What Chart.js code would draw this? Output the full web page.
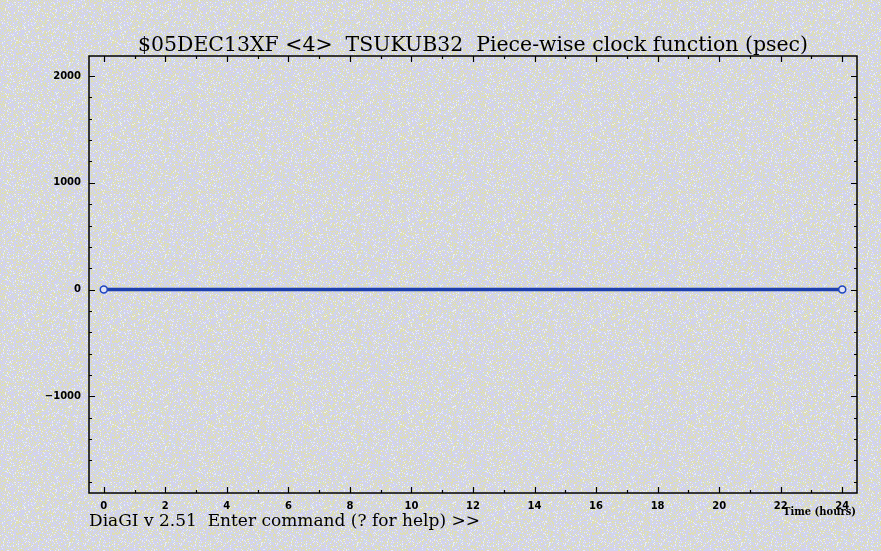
<!DOCTYPE html>
<html>
<head>
<meta charset="utf-8">
<script src="https://cdn.jsdelivr.net/npm/chart.js@4.4.1/dist/chart.umd.min.js"></script>
<style>
html,body{margin:0;padding:0;width:881px;height:551px;overflow:hidden;background:#dcdce6;}
#wrap{position:absolute;left:0;top:0;width:881px;height:551px;}
</style>
</head>
<body>
<div id="wrap"><canvas id="c" width="881" height="551"></canvas></div>
<script>
// ---- data ----
const timeHours = [0, 24];
const clockPsec = [0, 0];
const titleText = "$05DEC13XF <4>  TSUKUB32  Piece-wise clock function (psec)";
const promptText = "DiaGI v 2.51  Enter command (? for help) >>";
const xAxisLabel = "Time (hours)";
const xRange = [-0.48, 24.48];
const yRange = [-1905, 2188];

// ---- dithered background tile (deterministic hash, decoration only) ----
(function(){
  const t = document.createElement('canvas'); t.width = 96; t.height = 96;
  const g = t.getContext('2d'); const img = g.createImageData(96, 96);
  let s = 12345;
  function h(){ s = (s * 1103515245 + 12345) & 0x7fffffff; return (s >> 8) / 8388608; }
  for (let i = 0; i < 96*96; i++) {
    const r = h(); let c;
    if (r < 0.54) c = [210,210,240];
    else if (r < 0.88) c = [222,222,178];
    else if (r < 0.96) c = [232,238,248];
    else c = [198,224,232];
    img.data[i*4]=c[0]; img.data[i*4+1]=c[1]; img.data[i*4+2]=c[2]; img.data[i*4+3]=255;
  }
  g.putImageData(img, 0, 0);
  document.body.style.backgroundImage = 'url(' + t.toDataURL() + ')';
})();

function stretchText(ctx, text, x, y, width, align) {
  const w = ctx.measureText(text).width;
  const sx = width / w;
  ctx.save();
  ctx.translate(x, y);
  ctx.scale(sx, 1);
  ctx.textAlign = 'left';
  ctx.fillText(text, align === 'center' ? -w/2 : 0, 0);
  ctx.restore();
}

const framePlugin = {
  id: 'frame',
  afterDraw(chart) {
    const ctx = chart.ctx, a = chart.chartArea;
    const xs = chart.scales.x, ys = chart.scales.y;
    ctx.save();
    ctx.strokeStyle = '#000'; ctx.lineWidth = 1.5;
    ctx.strokeRect(a.left, a.top, a.right - a.left, a.bottom - a.top);
    ctx.lineWidth = 1.2;
    ctx.beginPath();
    xs.ticks.forEach(t => {
      const px = Math.round(xs.getPixelForValue(t.value)) + 0.5;
      const len = (t.value % 2 === 0) ? 6 : 3;
      ctx.moveTo(px, a.bottom); ctx.lineTo(px, a.bottom - len);
      ctx.moveTo(px, a.top); ctx.lineTo(px, a.top + len);
    });
    ys.ticks.forEach(t => {
      const py = Math.round(ys.getPixelForValue(t.value)) + 0.5;
      const len = (t.value % 1000 === 0) ? 6 : 3;
      ctx.moveTo(a.left, py); ctx.lineTo(a.left + len, py);
      ctx.moveTo(a.right, py); ctx.lineTo(a.right - len, py);
    });
    ctx.stroke();
    // texts
    ctx.fillStyle = '#000';
    ctx.textBaseline = 'alphabetic';
    ctx.font = '20px "DejaVu Serif"';
    stretchText(ctx, titleText, (a.left + a.right) / 2, 51, 670, 'center');
    ctx.font = '17px "DejaVu Serif"';
    stretchText(ctx, promptText, 89, 526, 391, 'left');
    ctx.font = 'bold 11px "DejaVu Serif"';
    stretchText(ctx, xAxisLabel, 783, 515, 73, 'left');
    ctx.restore();
  }
};

new Chart(document.getElementById('c'), {
  type: 'line',
  data: {
    datasets: [{
      data: timeHours.map((x, i) => ({x: x, y: clockPsec[i]})),
      borderColor: '#1e40b0',
      borderWidth: 3.5,
      pointRadius: 3.5,
      pointBorderWidth: 1.5,
      pointBackgroundColor: '#e0e2f4',
      pointBorderColor: '#1e44c0',
      tension: 0
    }]
  },
  options: {
    responsive: false,
    animation: false,
    layout: { padding: { top: 56, right: 24, left: 0, bottom: 0 } },
    plugins: { legend: { display: false }, tooltip: { enabled: false }, title: { display: false } },
    scales: {
      x: {
        type: 'linear', min: xRange[0], max: xRange[1],
        grid: { display: false }, border: { display: false },
        afterFit(s) { s.height = 58; },
        ticks: {
          stepSize: 1, includeBounds: false, autoSkip: false, maxRotation: 0,
          padding: -1, color: '#000',
          font: { family: '"DejaVu Sans"', size: 10, weight: 'bold' },
          callback: v => (v % 2 === 0 ? String(v) : '')
        }
      },
      y: {
        type: 'linear', min: yRange[0], max: yRange[1],
        grid: { display: false }, border: { display: false },
        afterFit(s) { s.width = 89; },
        ticks: {
          stepSize: 200, includeBounds: false, autoSkip: false,
          padding: 0, color: '#000',
          font: { family: '"DejaVu Sans"', size: 10, weight: 'bold' },
          callback: v => (v % 1000 === 0 ? String(v).replace('-', '\u2212') : '')
        }
      }
    }
  },
  plugins: [framePlugin]
});
</script>
</body>
</html>
